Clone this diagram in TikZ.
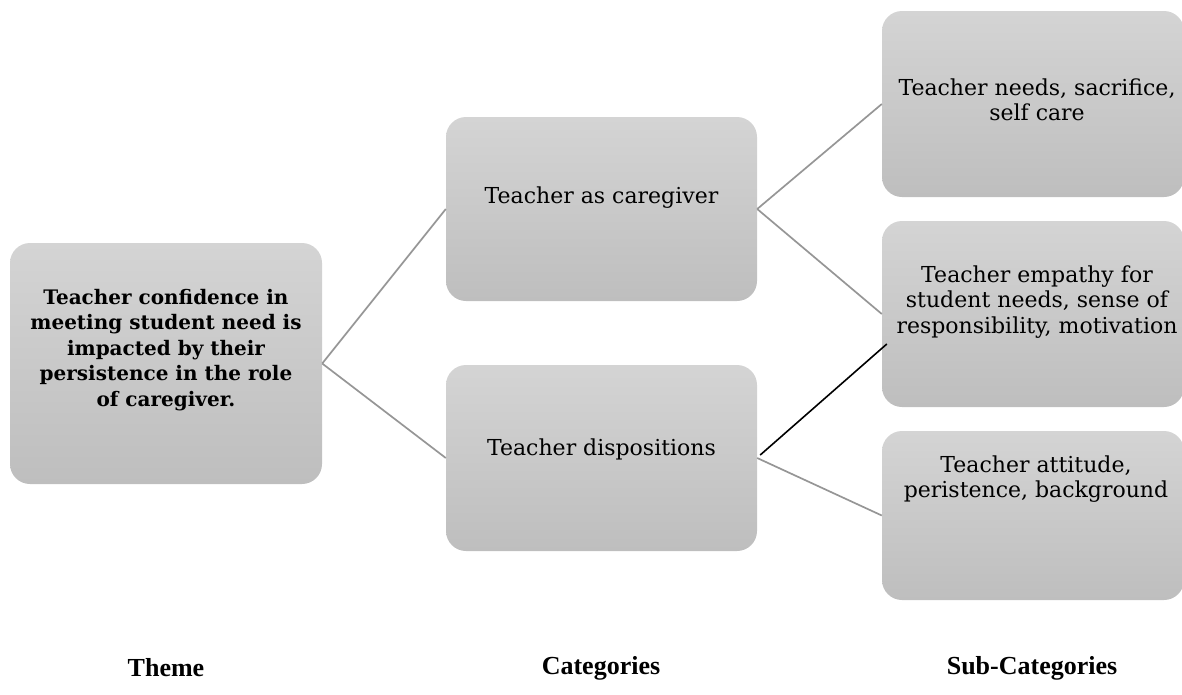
\documentclass[tikz,border=0pt]{standalone}
\usepackage{fontspec}
\setmainfont{DejaVu Serif}
\newfontfamily\labelfont{Liberation Serif}
\usetikzlibrary{calc}
\definecolor{boxtop}{RGB}{212,212,212}
\definecolor{boxbot}{RGB}{190,190,190}
\definecolor{linegray}{RGB}{150,150,150}
\tikzset{
  box/.style={rounded corners=20pt, top color=boxtop, bottom color=boxbot, draw=none, inner sep=0pt},
  boxtext/.style={align=center, inner sep=0pt, font=\fontsize{22}{25.5}\selectfont},
  conn/.style={draw=linegray, line width=1.7pt},
  odd/.style={draw=black, line width=1.6pt},
  coltitle/.style={font=\labelfont\bfseries\fontsize{26}{30}\selectfont, inner sep=0pt}
}
\begin{document}
\begin{tikzpicture}[x=1pt,y=-1pt]
\useasboundingbox (0,0) rectangle (1182,694);
% boxes
\node[box, minimum width=312pt, minimum height=241pt] (theme) at (166,363.5) {};
\node[box, minimum width=311pt, minimum height=184pt] (cat1) at (601.5,209) {};
\node[box, minimum width=311pt, minimum height=186pt] (cat2) at (601.5,458) {};
\node[box, minimum width=302pt, minimum height=186pt] (sub1) at (1033,104) {};
\node[box, minimum width=302pt, minimum height=186pt] (sub2) at (1033,314) {};
\node[box, minimum width=302pt, minimum height=169pt] (sub3) at (1033,515.5) {};
% texts
\node[boxtext, font=\bfseries\fontsize{20}{25.5}\selectfont] (themet) at (166,350)
  {Teacher confidence in\\meeting student need is\\impacted by their\\persistence in the role\\of caregiver.};
\node[boxtext] (cat1t) at (601.5,198) {Teacher as caregiver};
\node[boxtext] (cat2t) at (601.5,449) {Teacher dispositions};
\node[boxtext] (sub1t) at (1037,100) {Teacher needs, sacrifice,\\self care};
\node[boxtext] (sub2t) at (1037,302) {Teacher empathy for\\student needs, sense of\\responsibility, motivation};
\node[boxtext] (sub3t) at (1036,479) {Teacher attitude,\\peristence, background};
% connectors
\draw[conn] (theme.east) -- (cat1.west);
\draw[conn] (theme.east) -- (cat2.west);
\draw[conn] (cat1.east) -- (sub1.west);
\draw[conn] (cat1.east) -- (sub2.west);
\draw[conn] (cat2.east) -- (sub3.west);
\coordinate (oddend) at ($(sub2.west)+(5,30)$);
\draw[odd] ($(cat2.east)+(3,-3)$) -- (oddend);
% column titles
\node[coltitle] (ttheme) at (166,668) {Theme};
\node[coltitle] (tcat) at (601,668) {Categories};
\node[coltitle] (tsub) at (1032,668) {Sub-Categories};
\end{tikzpicture}
\end{document}
